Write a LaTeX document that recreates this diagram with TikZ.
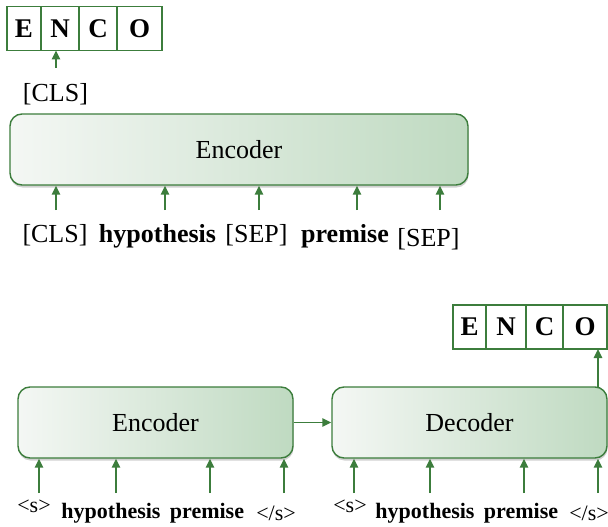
\documentclass[tikz,border=0pt]{standalone}
\usepackage{fontspec}
\setmainfont{Liberation Serif}
\usetikzlibrary{arrows.meta,positioning,shadows}
\usepackage{xcolor}
\definecolor{grn}{HTML}{3C7D3C}
\definecolor{boxl}{HTML}{F4F7F4}
\definecolor{boxr}{HTML}{BFDAC1}

\begin{document}
\begin{tikzpicture}[x=1pt, y=-1pt, every node/.style={font=\fontsize{26}{30}\selectfont}]
\tikzset{blk/.style={draw=grn, line width=1.4pt, rounded corners=12pt, left color=boxl, middle color=boxl!70!boxr, right color=boxr, inner sep=0pt, minimum height=71pt,
  drop shadow={fill=black!60, opacity=0.3, shadow xshift=0.5pt, shadow yshift=-2.5pt}}}
\tikzset{cell/.style={draw=grn, line width=1.4pt, fill=white, minimum height=44pt, inner sep=0pt, outer sep=0pt, font=\fontsize{27}{30}\selectfont\bfseries}}
\tikzset{arr/.style={draw=grn, line width=1.5pt, -{Triangle[length=9pt,width=8.5pt]}}}
\tikzset{tok/.style={anchor=base, font=\fontsize{22}{26}\selectfont\bfseries}}
\useasboundingbox (0,0) rectangle (608,527);
% sentence-pair classification
\node[cell, minimum width=34pt, anchor=north west] (e1) at (7,6.5) {E};
\node[cell, minimum width=38pt, right=0pt of e1] (n1) {N};
\node[cell, minimum width=38pt, right=0pt of n1] (c1) {C};
\node[cell, minimum width=45pt, right=0pt of c1] (o1) {O};
\node[anchor=base] (cls1) at (55.5,102) {[CLS]};
\coordinate (c0) at (56,68);
\draw[arr] (c0) -- (c0 |- n1.south);
\node[blk, minimum width=458pt] (enc1) at (239,149.5) {Encoder};
\node[anchor=base] (in1) at (55,242) {[CLS]};
\node[anchor=base, font=\fontsize{26}{30}\selectfont\bfseries] (in2) at (157.5,242) {hypothesis};
\node[anchor=base] (in3) at (256.5,242) {[SEP]};
\node[anchor=base, font=\fontsize{26}{30}\selectfont\bfseries] (in4) at (345,242) {premise};
\node[anchor=base] (in5) at (428.5,246) {[SEP]};
\foreach \x [count=\i] in {56,165,259,357,440} {
  \coordinate (a\i) at (\x,210);
  \draw[arr] (a\i) -- (a\i |- enc1.south);
}
% encoder-decoder
\node[blk, minimum width=275pt] (enc2) at (155.5,422.5) {Encoder};
\node[blk, minimum width=275pt] (dec) at (469.5,422.5) {Decoder};
\draw[arr] (enc2) -- (dec);
\node[cell, minimum width=33pt, anchor=north west] (e2) at (453,305) {E};
\node[cell, minimum width=40pt, right=0pt of e2] (n2) {N};
\node[cell, minimum width=37pt, right=0pt of n2] (c2) {C};
\node[cell, minimum width=44pt, right=0pt of c2] (o2) {O};
\coordinate (d0) at (598,387);
\draw[arr] (d0) -- (d0 |- o2.south);
\node[font=\fontsize{22}{26}\selectfont] (s1) at (34,506) {<s>};
\node[tok] (h1) at (111,518) {hypothesis};
\node[tok] (p1) at (207,518) {premise};
\node[font=\fontsize{22}{26}\selectfont] (t1) at (276,513) {</s>};
\node[font=\fontsize{22}{26}\selectfont] (s2) at (350,506) {<s>};
\node[tok] (h2) at (425,518) {hypothesis};
\node[tok] (p2) at (521,518) {premise};
\node[font=\fontsize{22}{26}\selectfont] (t2) at (589,513) {</s>};
\foreach \x [count=\i] in {39,116,210,284} {
  \coordinate (b\i) at (\x,493);
  \draw[arr] (b\i) -- (b\i |- enc2.south);
}
\foreach \x [count=\i] in {354,430,524,598} {
  \coordinate (f\i) at (\x,493);
  \draw[arr] (f\i) -- (f\i |- dec.south);
}
\end{tikzpicture}
\end{document}
